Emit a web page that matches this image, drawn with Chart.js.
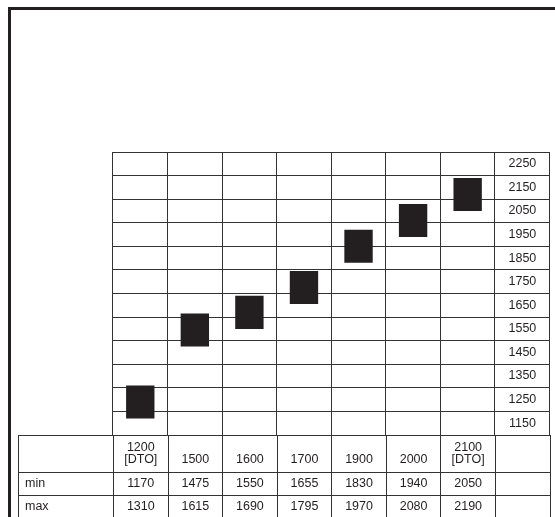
<!DOCTYPE html>
<html>
<head>
<meta charset="utf-8">
<script src="https://cdn.jsdelivr.net/npm/chart.js@4/dist/chart.umd.min.js"></script>
<style>
  html, body { margin: 0; padding: 0; background: #fff; }
  body { width: 555px; height: 517px; position: relative; overflow: hidden;
         font-family: "Liberation Sans", Arial, sans-serif; color: #231f20; }
  #frameTop { position: absolute; left: 8px; top: 7px; width: 547px; height: 3px; background: #231f20; }
  #frameLeft { position: absolute; left: 8px; top: 7px; width: 3px; height: 510px; background: #231f20; }
  #chartBox { position: absolute; left: 112px; top: 151px; width: 438px; height: 285px; }
  #rightEdge { position: absolute; left: 549px; top: 152px; width: 1px; height: 283px; background: #333; }
  #tbl { position: absolute; left: 18px; top: 435px; width: 532px; border-collapse: collapse;
         table-layout: fixed; font-size: 12.5px; }
  #tbl td { border: 1px solid #333; padding: 0; text-align: center; line-height: 11.5px; }
  #tbl tr.head td { height: 37px; vertical-align: bottom; padding-bottom: 7px; box-sizing: border-box; }
  #tbl tr.val td { height: 22px; vertical-align: middle; }
  #tbl td.name { text-align: left; padding-left: 6px; }
</style>
</head>
<body>
<div id="frameTop"></div>
<div id="frameLeft"></div>
<div id="chartBox"><canvas id="barChart"></canvas></div>
<div id="rightEdge"></div>
<table id="tbl"></table>

<script>
var categories = [['1200', '[DTO]'], '1500', '1600', '1700', '1900', '2000', ['2100', '[DTO]']];
var minValues = [1170, 1475, 1550, 1655, 1830, 1940, 2050];
var maxValues = [1310, 1615, 1690, 1795, 1970, 2080, 2190];
var yLabels = [1150, 1250, 1350, 1450, 1550, 1650, 1750, 1850, 1950, 2050, 2150, 2250];

var colWidth = 54.57;

// table under the chart
var tbl = document.getElementById('tbl');
var cols = '<colgroup><col style="width:95px">';
for (var i = 0; i <= categories.length; i++) cols += '<col style="width:' + colWidth + 'px">';
cols += '</colgroup>';
var head = '<tr class="head"><td></td>';
categories.forEach(function (c) {
  head += '<td>' + (Array.isArray(c) ? c.join('<br>') : c) + '</td>';
});
head += '<td></td></tr>';
var rowMin = '<tr class="val"><td class="name">min</td>';
minValues.forEach(function (v) { rowMin += '<td>' + v + '</td>'; });
rowMin += '<td></td></tr>';
var rowMax = '<tr class="val"><td class="name">max</td>';
maxValues.forEach(function (v) { rowMax += '<td>' + v + '</td>'; });
rowMax += '<td></td></tr>';
tbl.innerHTML = cols + head + rowMin + rowMax;

var ranges = minValues.map(function (v, i) { return [v, maxValues[i]]; });

var ctx = document.getElementById('barChart').getContext('2d');
var myChart = new Chart(ctx, {
  type: 'bar',
  data: {
    labels: categories,
    datasets: [{
      data: ranges,
      backgroundColor: '#231f20',
      borderWidth: 0,
      borderSkipped: false,
      categoryPercentage: 1,
      barPercentage: 0.52
    }]
  },
  options: {
    responsive: true,
    maintainAspectRatio: false,
    animation: false,
    layout: { padding: { top: 1, bottom: 1, left: 1, right: 0.5 } },
    plugins: { legend: { display: false }, tooltip: { enabled: false } },
    scales: {
      x: {
        ticks: { display: false },
        grid: { color: '#333', drawTicks: false, offset: true },
        border: { color: '#333' }
      },
      y: {
        position: 'right',
        min: 1100,
        max: 2300,
        ticks: {
          stepSize: 50,
          maxTicksLimit: 40,
          autoSkip: false,
          crossAlign: 'center',
          padding: -41,
          color: '#231f20',
          font: { family: '"Liberation Sans", Arial, sans-serif', size: 12.5 },
          callback: function (v) { return yLabels.indexOf(v) >= 0 ? String(v) : ''; }
        },
        grid: {
          tickLength: colWidth,
          color: function (c) {
            return c.tick && c.tick.value % 100 === 0 ? '#333' : 'rgba(0,0,0,0)';
          }
        },
        border: { color: '#333' },
        afterFit: function (scale) { scale.width = colWidth; }
      }
    }
  }
});
</script>
</body>
</html>
